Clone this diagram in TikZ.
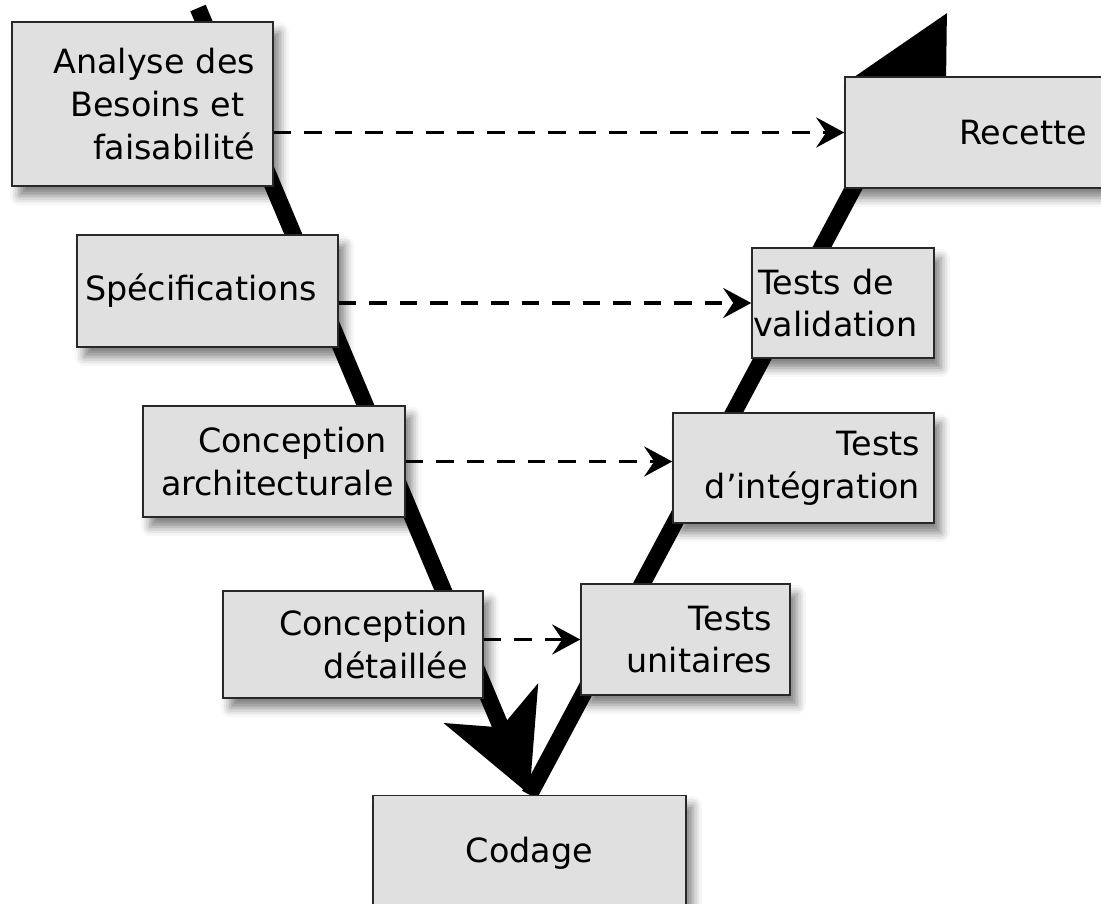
\documentclass[tikz,border=0pt]{standalone}
\usepackage{fontspec}
\setmainfont{DejaVu Sans}
\usetikzlibrary{arrows.meta, backgrounds, shadows.blur}
\definecolor{boxgray}{RGB}{224, 224, 224}
\definecolor{edgegray}{RGB}{40, 40, 40}

\begin{document}
\begin{tikzpicture}[x=0.02cm, y=-0.02cm,
  phase/.style={draw=edgegray, line width=0.9pt, fill=boxgray, inner ysep=0pt,
    font=\fontsize{19}{24.4}\selectfont,
    blur shadow={shadow xshift=0.14cm, shadow yshift=-0.2cm, shadow blur radius=0.18cm, shadow opacity=50}},
  vline/.style={line width=9.5pt, -{Stealth[length=1.96cm, width=2cm, inset=0.5cm]}},
  link/.style={line width=2.2pt, dash pattern=on 0.35cm off 0.26cm,
    -{Stealth[length=0.56cm, width=0.6cm, inset=0.2cm]}}]
  \useasboundingbox (0,0) rectangle (1101,903);

  % Descending branch
  \node[phase, minimum width=5.22cm, minimum height=3.28cm, inner xsep=0.36cm, text width=4.5cm, align=right] (analyse) at (142.5,104) {Analyse des\\Besoins et\kern0.32em\\faisabilité};
  \node[phase, minimum width=5.22cm, minimum height=2.24cm, inner xsep=0.08cm, text width=4.9cm, align=left] (specs) at (207.5,291) {Spécifications};
  \node[phase, minimum width=5.24cm, minimum height=2.22cm, inner xsep=0.36cm, text width=4.52cm, align=right] (archi) at (274,461.5) {Conception\\architecturale};
  \node[phase, minimum width=5.2cm, minimum height=2.14cm, inner xsep=0.3cm, text width=4.6cm, align=right] (detail) at (353,644.5) {Conception\\détaillée};

  % Bottom
  \node[phase, minimum width=6.26cm, minimum height=2.3cm, align=center] (codage) at (529.5,853) {Codage};

  % Ascending branch
  \node[phase, minimum width=4.18cm, minimum height=2.22cm, inner xsep=0.36cm, text width=3.46cm, align=right] (unit) at (685.5,639.5) {Tests\\unitaires};
  \node[phase, minimum width=5.22cm, minimum height=2.2cm, inner xsep=0.28cm, text width=4.66cm, align=right] (integ) at (803.5,468) {Tests\\d’intégration};
  \node[phase, minimum width=3.64cm, minimum height=2.2cm, inner xsep=0.02cm, text width=3.6cm, align=left] (valid) at (843,303) {\kern0.1cm Tests de\\validation};
  \node[phase, minimum width=5.26cm, minimum height=2.22cm, inner xsep=0.42cm, text width=4.42cm, align=right] (recette) at (976.5,132.5) {Recette};

  % Correspondences
  \draw[link] (analyse.east |- recette.west) -- (recette.west);
  \draw[link] (specs.east |- valid.west) -- (valid.west);
  \draw[link] (archi.east) -- (archi.east -| integ.west);
  \draw[link] (detail.east |- unit.west) -- (unit.west);

  % The V
  \coordinate (vstart) at (198,8);
  \coordinate (vend) at (947,13);
  \begin{scope}[on background layer]
    \draw[vline] (vstart) -- (codage.north);
    \draw[vline] (codage.north) -- (vend);
  \end{scope}
\end{tikzpicture}
\end{document}
